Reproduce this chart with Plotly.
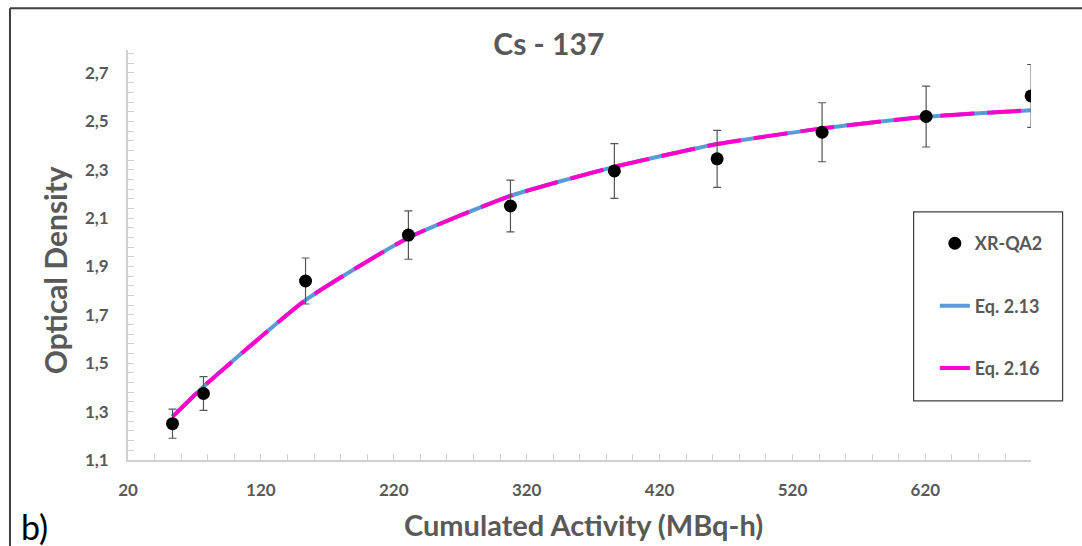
import plotly.graph_objects as go

# Measured optical density of XR-QA2 film vs cumulated Cs-137 activity
activity = [53.5, 76.8, 153.6, 231.0, 307.8, 386.0, 463.3, 542.3, 620.6, 699.6]
od_measured = [1.25, 1.375, 1.84, 2.03, 2.15, 2.295, 2.345, 2.455, 2.52, 2.605]
od_error = [0.06, 0.07, 0.095, 0.10, 0.107, 0.113, 0.118, 0.122, 0.126, 0.13]

# Model curves evaluated at the same activities
od_eq213 = [1.279, 1.403, 1.761, 2.019, 2.192, 2.312, 2.406, 2.471, 2.519, 2.546]
od_eq216 = [1.279, 1.403, 1.761, 2.019, 2.192, 2.312, 2.406, 2.471, 2.519, 2.546]

x_ticks = [20, 120, 220, 320, 420, 520, 620]
y_ticks = [1.1, 1.3, 1.5, 1.7, 1.9, 2.1, 2.3, 2.5, 2.7]

GRAY = "#595959"
AXIS = "#d0d0d0"
FONT = "Lato"

fig = go.Figure()

fig.add_trace(go.Scatter(
    x=activity, y=od_eq213, mode="lines", name="Eq. 2.13",
    line=dict(color="#5B9BD5", width=4, shape="spline", smoothing=0.5),
    legendgroup="b",
))
fig.add_trace(go.Scatter(
    x=activity, y=od_eq216, mode="lines", name="Eq. 2.16",
    line=dict(color="#FF00CC", width=4, shape="spline", smoothing=0.5,
              dash="34px,13px"),
    legendgroup="c",
))
fig.add_trace(go.Scatter(
    x=activity, y=od_measured, mode="markers", name="XR-QA2",
    marker=dict(color="black", size=13),
    error_y=dict(type="data", array=od_error, color="#555555",
                 thickness=1.2, width=4),
    legendgroup="a", legendrank=1,
))

# Outer frame (top and left edges)
fig.add_shape(type="line", xref="paper", yref="paper",
              x0=-0.1307, x1=1.06, y0=1.102, y1=1.102,
              line=dict(color="#3f3f3f", width=2))
fig.add_shape(type="line", xref="paper", yref="paper",
              x0=-0.1307, x1=-0.1307, y0=1.102, y1=-0.22,
              line=dict(color="#3f3f3f", width=2))
# Legend box
fig.add_shape(type="rect", xref="paper", yref="paper",
              x0=0.870, x1=1.035, y0=0.144, y1=0.605,
              line=dict(color="#404040", width=1.2), fillcolor="white",
              layer="below")

fig.add_annotation(text="Optical Density", xref="paper", yref="paper",
                   x=-0.0808, y=0.463, xanchor="center", yanchor="middle",
                   textangle=-90, showarrow=False,
                   font=dict(family=FONT, size=30, color=GRAY, weight="bold"))
fig.add_annotation(text="Cumulated Activity (MBq-h)", xref="paper", yref="paper",
                   x=0.504, y=-0.1585, xanchor="center", yanchor="middle",
                   showarrow=False,
                   font=dict(family=FONT, size=29, color=GRAY, weight="bold"))
fig.add_annotation(text="b)", xref="paper", yref="paper",
                   x=-0.104, y=-0.163, xanchor="center", yanchor="middle",
                   showarrow=False,
                   font=dict(family=FONT, size=34, color="black"))

fig.update_layout(
    width=1082, height=546,
    margin=dict(l=128, r=51, t=50, b=86),
    paper_bgcolor="white", plot_bgcolor="white",
    separators=",.",
    title=dict(text="Cs - 137", xref="paper", x=0.466, xanchor="center",
               yref="container", y=0.9176, yanchor="middle",
               font=dict(family=FONT, size=30, color=GRAY, weight="bold")),
    showlegend=True,
    legend=dict(x=0.8935, y=0.573, xanchor="left", yanchor="top",
                bgcolor="rgba(0,0,0,0)", borderwidth=0,
                tracegroupgap=36, itemwidth=30,
                font=dict(family=FONT, size=18, color=GRAY, weight="bold")),
)

fig.update_xaxes(
    range=[20, 699.5], tickmode="array", tickvals=x_ticks,
    showline=True, linecolor=AXIS, linewidth=2,
    ticks="inside", ticklen=6, tickcolor=AXIS, tickwidth=1,
    minor=dict(dtick=20, tick0=20, ticks="inside", ticklen=6,
               tickcolor=AXIS, tickwidth=1),
    showgrid=False, zeroline=False, ticklabelstandoff=14,
    tickfont=dict(family=FONT, size=17, color=GRAY, weight="bold"),
)
fig.update_yaxes(
    range=[1.1, 2.795], tickmode="array", tickvals=y_ticks, tickformat=".1f",
    showline=True, linecolor=AXIS, linewidth=2,
    ticks="inside", ticklen=6, tickcolor=AXIS, tickwidth=1,
    minor=dict(dtick=0.04, tick0=1.1, ticks="inside", ticklen=6,
               tickcolor=AXIS, tickwidth=1),
    showgrid=False, zeroline=False, ticklabelstandoff=14,
    tickfont=dict(family=FONT, size=17, color=GRAY, weight="bold"),
)

fig.write_html("out.html")
